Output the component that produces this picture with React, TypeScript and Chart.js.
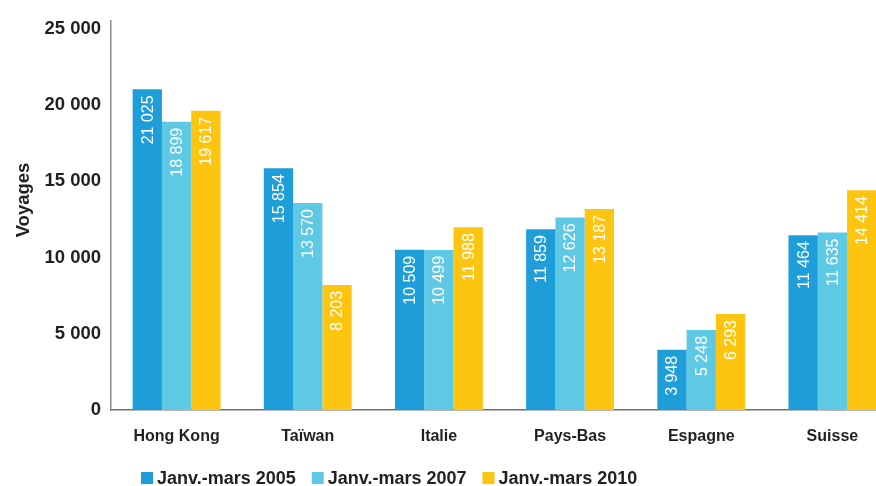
import React, { useEffect, useRef } from "react";
import { Chart, registerables } from "chart.js";

Chart.register(...registerables);

const categories = ["Hong Kong", "Taïwan", "Italie", "Pays-Bas", "Espagne", "Suisse"];
const seriesLabels = ["Janv.-mars 2005", "Janv.-mars 2007", "Janv.-mars 2010"];
const values2005 = [21025, 15854, 10509, 11859, 3948, 11464];
const values2007 = [18899, 13570, 10499, 12626, 5248, 11635];
const values2010 = [19617, 8203, 11988, 13187, 6293, 14414];
const seriesColors = ["#1E9ED8", "#5DC9E4", "#FDC510"];
const yTicks = [0, 5000, 10000, 15000, 20000, 25000];
const yTitle = "Voyages";

const FONT = "'Liberation Sans', Arial, Helvetica, sans-serif";
const TEXT = "#231F20";

const fmt = (v: number) => String(v).replace(/\B(?=(\d{3})+(?!\d))/g, " ");

const valueLabelPlugin = {
  id: "valueLabels",
  afterDatasetsDraw(chart: any) {
    const ctx = chart.ctx;
    ctx.save();
    ctx.fillStyle = "#FFFFFF";
    ctx.font = `16px ${FONT}`;
    ctx.textAlign = "right";
    ctx.textBaseline = "middle";
    chart.data.datasets.forEach((ds: any, i: number) => {
      const meta = chart.getDatasetMeta(i);
      meta.data.forEach((el: any, j: number) => {
        ctx.save();
        ctx.translate(el.x + 1, el.y + 6);
        ctx.rotate(-Math.PI / 2);
        ctx.fillText(fmt(ds.data[j]), 0, 0);
        ctx.restore();
      });
    });
    ctx.restore();
  },
};

const legendPlugin = {
  id: "customLegend",
  afterDraw(chart: any) {
    const ctx = chart.ctx;
    ctx.save();
    // y-axis title
    ctx.fillStyle = TEXT;
    ctx.font = `bold 18.5px ${FONT}`;
    ctx.textAlign = "center";
    ctx.textBaseline = "middle";
    ctx.save();
    ctx.translate(24, 200);
    ctx.rotate(-Math.PI / 2);
    ctx.fillText(yTitle, 0, 0);
    ctx.restore();
    // legend
    ctx.font = `bold 18px ${FONT}`;
    ctx.textBaseline = "middle";
    ctx.textAlign = "left";
    let x = 141;
    const y = 478;
    chart.data.datasets.forEach((ds: any) => {
      ctx.fillStyle = ds.backgroundColor;
      ctx.fillRect(x, y - 6, 12, 12);
      ctx.fillStyle = TEXT;
      ctx.fillText(ds.label, x + 16, y + 1);
      x += 16 + ctx.measureText(ds.label).width + 16;
    });
    ctx.restore();
  },
};

export default function App() {
  const ref = useRef<HTMLCanvasElement | null>(null);

  useEffect(() => {
    if (!ref.current) return;
    const chart = new Chart(ref.current, {
      type: "bar",
      data: {
        labels: categories,
        datasets: [values2005, values2007, values2010].map((d, i) => ({
          label: seriesLabels[i],
          data: d,
          backgroundColor: seriesColors[i],
          borderWidth: 0,
          categoryPercentage: 0.67,
          barPercentage: 1.0,
        })),
      },
      options: {
        animation: false,
        responsive: false,
        devicePixelRatio: 1,
        layout: { padding: { top: 14, right: 2, left: 0, bottom: 0 } },
        plugins: {
          legend: { display: false },
          tooltip: { enabled: false },
        },
        scales: {
          x: {
            grid: { display: false, drawTicks: false },
            border: { display: true, color: "#6D6E71", width: 1.5 },
            ticks: {
              color: TEXT,
              font: { family: FONT, size: 16, weight: "bold" },
              padding: 17,
              maxRotation: 0,
            },
            afterFit(scale: any) {
              scale.height = 76;
            },
          },
          y: {
            min: 0,
            max: 25500,
            grid: { display: false, drawTicks: false },
            border: { display: true, color: "#8A8C8E", width: 1.5 },
            afterBuildTicks(scale: any) {
              scale.ticks = yTicks.map((v) => ({ value: v }));
            },
            ticks: {
              color: TEXT,
              font: { family: FONT, size: 18.5, weight: "bold" },
              padding: 10,
              callback: (v: any) => fmt(Number(v)),
            },
            afterFit(scale: any) {
              scale.width = 111;
            },
          },
        },
      },
      plugins: [valueLabelPlugin, legendPlugin],
    });
    return () => chart.destroy();
  }, []);

  return (
    <div
      style={{
        position: "fixed",
        left: 0,
        top: 0,
        width: 876,
        height: 486,
        overflow: "hidden",
        background: "#FFFFFF",
      }}
    >
      <canvas ref={ref} width={900} height={486} style={{ display: "block" }} />
    </div>
  );
}
